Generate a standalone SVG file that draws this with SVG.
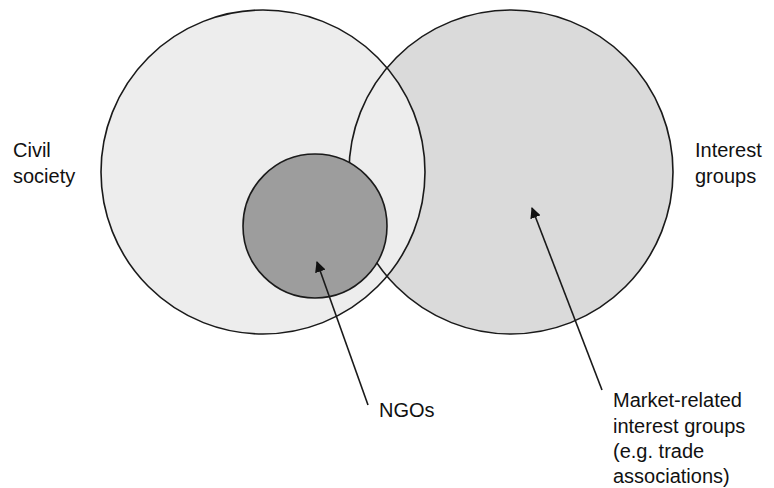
<svg xmlns="http://www.w3.org/2000/svg" width="774" height="488" viewBox="0 0 774 488">
<style>
.lbl{font-family:"Liberation Sans",Arial,sans-serif;font-size:20px;fill:#111}
.edge{fill:none;stroke:#1a1a1a;stroke-width:1.6}
.line{stroke:#1a1a1a;stroke-width:1.6;fill:none}
</style>
<defs>
<marker id="ah" viewBox="0 0 10 10" refX="9" refY="5" markerWidth="11" markerHeight="11" markerUnits="userSpaceOnUse" orient="auto">
<path d="M0,0 L10,5 L0,10 z" fill="#111"/>
</marker>
</defs>
<rect width="774" height="488" fill="#ffffff"/>
<g id="interest-groups">
<circle cx="511" cy="172" r="162" fill="#dadada"/>
</g>
<g id="civil-society">
<circle cx="263" cy="172" r="162" fill="#ededed"/>
<circle cx="263" cy="172" r="162" class="edge"/>
<text class="lbl" x="13" y="157">Civil</text>
<text class="lbl" x="13" y="183">society</text>
</g>
<g id="interest-groups-outline">
<circle cx="511" cy="172" r="162" class="edge"/>
<text class="lbl" x="695" y="157">Interest</text>
<text class="lbl" x="695" y="183">groups</text>
</g>
<g id="ngos">
<circle cx="315" cy="226" r="72" class="edge" style="fill:#9d9d9d"/>
<text class="lbl" x="379" y="417">NGOs</text>
</g>
<g id="market-related">
<text class="lbl" x="613" y="407">Market-related</text>
<text class="lbl" x="613" y="433">interest groups</text>
<text class="lbl" x="613" y="458">(e.g. trade</text>
<text class="lbl" x="613" y="483">associations)</text>
</g>
<g id="connectors">
<line class="line" x1="368" y1="405" x2="317" y2="262" marker-end="url(#ah)"/>
<line class="line" x1="602" y1="390" x2="532" y2="208" marker-end="url(#ah)"/>
</g>
</svg>
